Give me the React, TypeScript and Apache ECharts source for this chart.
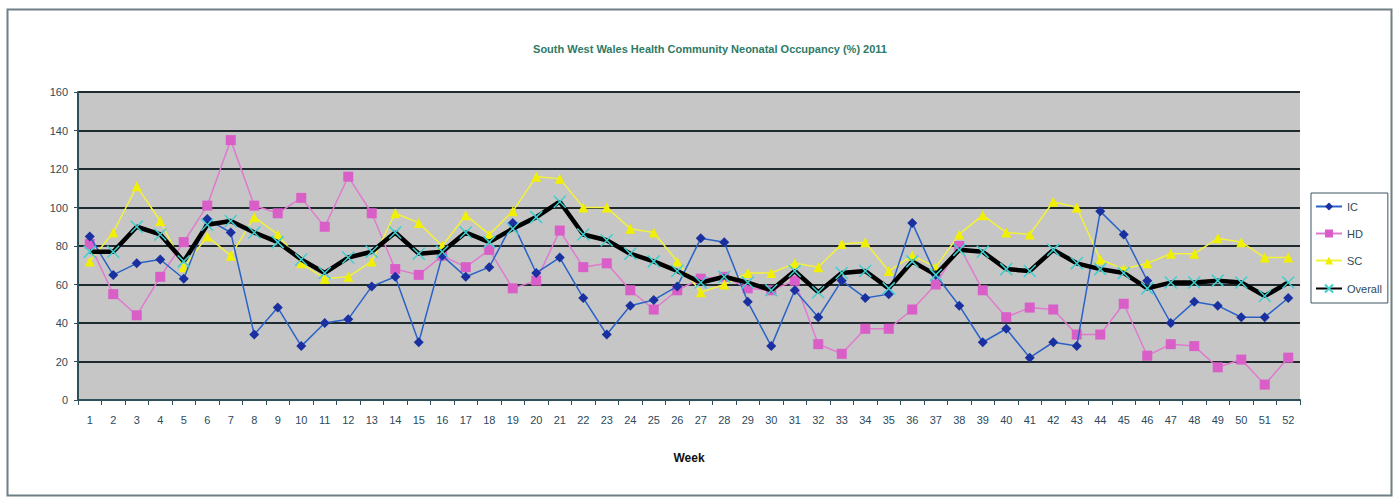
import React, { useEffect, useRef } from "react";
import * as echarts from "echarts";

const weeks: string[] = Array.from({ length: 52 }, (_, i) => String(i + 1));

const icValues: number[] = [
  85, 65, 71, 73, 63, 94, 87, 34, 48, 28, 40, 42, 59, 64, 30, 75, 64, 69, 92, 66,
  74, 53, 34, 49, 52, 59, 84, 82, 51, 28, 57, 43, 62, 53, 55, 92, 65, 49, 30, 37,
  22, 30, 28, 98, 86, 62, 40, 51, 49, 43, 43, 53,
];
const hdValues: number[] = [
  81, 55, 44, 64, 82, 101, 135, 101, 97, 105, 90, 116, 97, 68, 65, 75, 69, 78, 58, 62,
  88, 69, 71, 57, 47, 57, 63, 64, 58, 57, 62, 29, 24, 37, 37, 47, 60, 80, 57, 43,
  48, 47, 34, 34, 50, 23, 29, 28, 17, 21, 8, 22,
];
const scValues: number[] = [
  72, 87, 111, 93, 69, 85, 75, 95, 86, 71, 63, 64, 72, 97, 92, 80, 96, 86, 98, 116,
  115, 100, 100, 89, 87, 72, 56, 60, 66, 66, 71, 69, 81, 82, 67, 75, 69, 86, 96, 87,
  86, 103, 100, 73, 68, 71, 76, 76, 84, 82, 74, 74,
];
const overallValues: number[] = [
  77, 77, 90, 86, 72, 91, 93, 87, 82, 73, 66, 74, 77, 87, 76, 77, 87, 82, 89, 95,
  103, 86, 83, 76, 72, 67, 61, 64, 61, 57, 67, 56, 66, 67, 58, 72, 65, 78, 77, 68,
  67, 78, 71, 68, 66, 58, 61, 61, 62, 61, 54, 61,
];

const yTicks = { min: 0, max: 160, interval: 20 };

const labelColor = "#2d4a5a";
const fontFam = "'Liberation Sans Narrow', 'Liberation Sans', Arial, sans-serif";

export default function App() {
  const ref = useRef<HTMLDivElement>(null);
  useEffect(() => {
    if (!ref.current) return;
    const chart = echarts.init(ref.current, undefined, { renderer: "svg" });
    const xMarker = "path://M0,0L10,10M10,0L0,10";
    chart.setOption({
      animation: false,
      backgroundColor: "#ffffff",
      title: {
        text: "South West Wales Health Community Neonatal Occupancy (%) 2011",
        left: 705,
        textAlign: "center",
        top: 38,
        textStyle: { color: "#2e7a66", fontSize: 11, fontWeight: "bold", fontFamily: fontFam },
      },
      graphic: [
        {
          type: "rect",
          shape: { x: 7.5, y: 9.5, width: 1384, height: 486 },
          style: { fill: "none", stroke: "#6f7f86", lineWidth: 2 },
          silent: true,
        },
      ],
      legend: {
        orient: "vertical",
        left: 1311,
        top: 193,
        padding: [8, 6, 8, 4],
        itemGap: 16,
        itemWidth: 26,
        itemHeight: 10,
        borderColor: "#3a5560",
        borderWidth: 1,
        textStyle: { color: labelColor, fontSize: 11, fontFamily: fontFam },
        data: ["IC", "HD", "SC", "Overall"],
      },
      grid: { left: 78, right: 98, top: 92, bottom: 99, show: true, backgroundColor: "#c6c6c6", borderWidth: 0 },
      xAxis: {
        type: "category",
        data: weeks,
        boundaryGap: true,
        name: "Week",
        nameLocation: "middle",
        nameGap: 52,
        nameTextStyle: { color: "#111", fontWeight: "bold", fontSize: 12, fontFamily: fontFam },
        axisLine: { lineStyle: { color: "#2f4f5a", width: 2 } },
        axisTick: { show: true, alignWithLabel: false, length: 5, lineStyle: { color: "#2f4f5a" } },
        axisLabel: { color: labelColor, fontSize: 11, margin: 14, interval: 0, fontFamily: fontFam },
      },
      yAxis: {
        type: "value",
        min: yTicks.min,
        max: yTicks.max,
        interval: yTicks.interval,
        axisLine: { show: true, lineStyle: { color: "#2f4f5a", width: 2 } },
        axisTick: { show: true, length: 4, lineStyle: { color: "#2f4f5a" } },
        axisLabel: { color: labelColor, fontSize: 11, margin: 10, fontFamily: fontFam },
        splitLine: { lineStyle: { color: "#1e2a2e", width: 2 } },
      },
      series: [
        {
          name: "IC",
          type: "line",
          data: icValues,
          symbol: "diamond",
          symbolSize: 10,
          lineStyle: { color: "#2a62c8", width: 1.5 },
          itemStyle: { color: "#1a2fa0" },
          z: 3,
        },
        {
          name: "HD",
          type: "line",
          data: hdValues,
          symbol: "rect",
          symbolSize: 10,
          lineStyle: { color: "#e07ad0", width: 1.5 },
          itemStyle: { color: "#d95ec8" },
          z: 2,
        },
        {
          name: "SC",
          type: "line",
          data: scValues,
          symbol: "triangle",
          symbolSize: 10,
          lineStyle: { color: "#f2f23a", width: 1.5 },
          itemStyle: { color: "#f0f000" },
          z: 2,
        },
        {
          name: "Overall",
          type: "line",
          data: overallValues,
          symbol: xMarker,
          symbolSize: 12,
          lineStyle: { color: "#000000", width: 4.5 },
          itemStyle: { color: "none", borderColor: "#3fcfd0", borderWidth: 1.5 },
          z: 4,
        },
      ],
    });
    return () => chart.dispose();
  }, []);
  return (
    <div
      ref={ref}
      style={{ position: "fixed", left: 0, top: 0, width: 1398, height: 499 }}
    />
  );
}
